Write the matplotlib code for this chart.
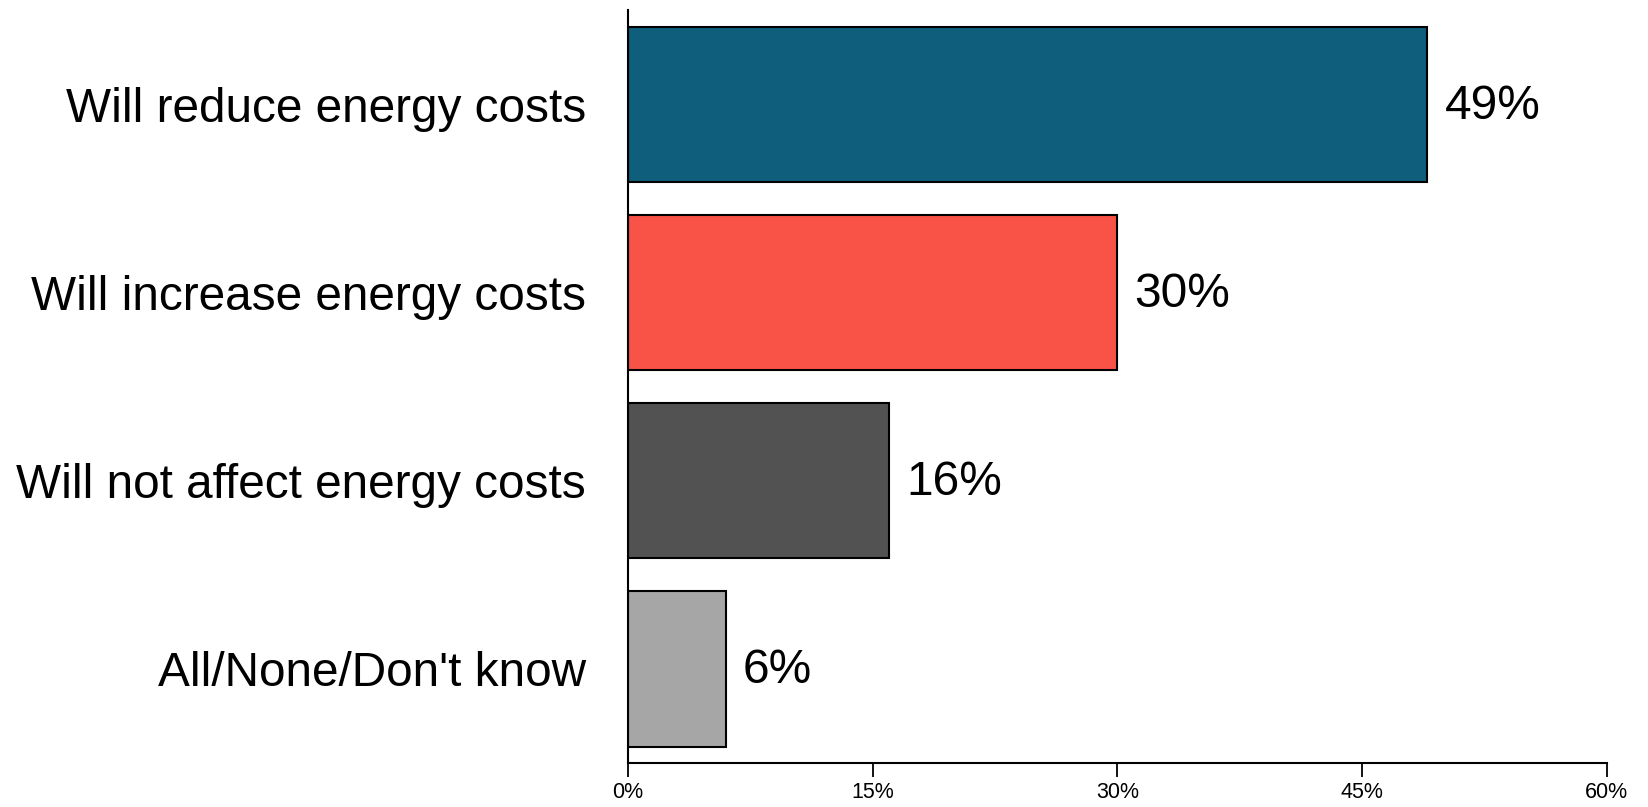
import matplotlib.pyplot as plt
import numpy as np

plt.rcParams['font.family'] = ['Liberation Sans', 'DejaVu Sans']

categories = ['Will reduce energy costs', 'Will increase energy costs',
              'Will not affect energy costs', "All/None/Don't know"]
values = [49, 30, 16, 6]
colors = ['#0f5e7b', '#f95247', '#525252', '#a6a6a6']
xticks = [0, 15, 30, 45, 60]

fig = plt.figure(figsize=(16.48, 8.07), dpi=100)
ax = fig.add_axes([0.381, 0.0545, 0.594, 0.9325])

y = np.arange(len(categories))
ax.barh(y, values, height=0.825, color=colors, edgecolor='black', linewidth=1.5)

for yi, v in zip(y, values):
    ax.text(v + 1.05, yi + 0.01, f'{v}%', va='center', ha='left', fontsize=34.5)

ax.set_xlim(0, 60)
ax.set_ylim(3.5, -0.5)
ax.set_yticks(y)
ax.set_yticklabels(categories, fontsize=34.4)
ax.tick_params(axis='y', length=0, pad=30)
ax.set_xticks(xticks)
ax.set_xticklabels([f'{t}%' for t in xticks], fontsize=15.5)
ax.tick_params(axis='x', length=10, width=1.3, direction='out', pad=4)

ax.spines['top'].set_visible(False)
ax.spines['right'].set_visible(False)
ax.spines['left'].set_linewidth(1.5)
ax.spines['bottom'].set_linewidth(1.5)

fig.savefig('out.png', dpi=100)
